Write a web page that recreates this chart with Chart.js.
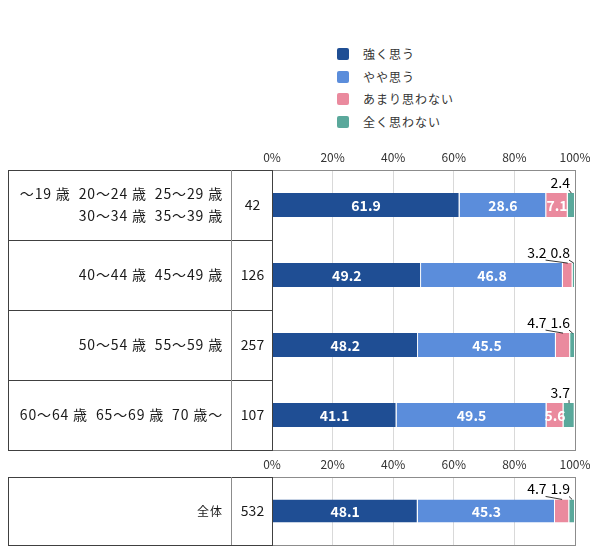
<!DOCTYPE html>
<html>
<head>
<meta charset="utf-8">
<script src="https://cdn.jsdelivr.net/npm/chart.js@4"></script>
<style>
  body { margin: 0; background: #fff; font-family: "Noto Sans CJK JP", sans-serif; }
  #page { position: relative; width: 590px; height: 552px; }
  #legend { position: absolute; left: 337px; top: 45px; }
  .item { position: absolute; left: 0; white-space: nowrap; font-size: 12px; color: #333; }
  .item span.box { position: absolute; left: 0; top: 3px; width: 12px; height: 12px; border-radius: 2px; }
  .item span.txt { position: absolute; left: 26px; top: 0; line-height: 18px; letter-spacing: 1px; }
  canvas { position: absolute; left: 0; }
</style>
</head>
<body>
<div id="page">
  <div id="legend"></div>
  <canvas id="groups" width="590" height="315" style="top:140px"></canvas>
  <canvas id="total" width="590" height="100" style="top:452px"></canvas>
</div>
<script>
const seriesNames = ['強く思う', 'やや思う', 'あまり思わない', '全く思わない'];
const seriesColors = ['#1f4e94', '#5b8ddb', '#ea8a9e', '#5aa89b'];

const ageGroups = [
  ['～19 歳  20～24 歳  25～29 歳', '30～34 歳  35～39 歳'],
  ['40～44 歳  45～49 歳'],
  ['50～54 歳  55～59 歳'],
  ['60～64 歳  65～69 歳  70 歳～']
];
const groupCounts = [42, 126, 257, 107];

const strongly = [61.9, 49.2, 48.2, 41.1];
const somewhat = [28.6, 46.8, 45.5, 49.5];
const notMuch  = [7.1, 3.2, 4.7, 5.6];
const notAtAll = [2.4, 0.8, 1.6, 3.7];

const totalLabel = [['全体']];
const totalCount = [532];
const totalValues = [48.1, 45.3, 4.7, 1.9];

const xTicks = [0, 20, 40, 60, 80, 100];

// legend
const legend = document.getElementById('legend');
seriesNames.forEach((name, i) => {
  const div = document.createElement('div');
  div.className = 'item';
  div.style.top = (i * 22.5) + 'px';
  div.innerHTML = '<span class="box" style="background:' + seriesColors[i] + '"></span><span class="txt">' + name + '</span>';
  legend.appendChild(div);
});

const FONT = '"Noto Sans CJK JP", sans-serif';

// label table on the left + box round the plot
const tablePlugin = {
  id: 'table',
  afterDraw(chart, args, opts) {
    const ctx = chart.ctx;
    const area = chart.chartArea;
    const n = chart.data.labels.length;
    const rowH = (area.bottom - area.top) / n;
    const left = 8, colX = 231;
    ctx.save();
    // plot box
    ctx.strokeStyle = '#8c8c8c';
    ctx.lineWidth = 1;
    ctx.strokeRect(area.left + 0.5, area.top + 0.5, area.right - area.left, area.bottom - area.top);
    // label table lines
    ctx.strokeStyle = '#404040';
    ctx.beginPath();
    for (let i = 0; i <= n; i++) {
      const y = Math.round(area.top + i * rowH) + 0.5;
      ctx.moveTo(left, y);
      ctx.lineTo(area.left, y);
    }
    ctx.moveTo(left + 0.5, area.top);
    ctx.lineTo(left + 0.5, area.bottom + 1);
    ctx.moveTo(area.left + 0.5, area.top);
    ctx.lineTo(area.left + 0.5, area.bottom + 1);
    ctx.stroke();
    ctx.strokeStyle = '#8c8c8c';
    ctx.beginPath();
    ctx.moveTo(colX + 0.5, area.top);
    ctx.lineTo(colX + 0.5, area.bottom);
    ctx.stroke();
    // texts
    ctx.fillStyle = '#1a1a1a';
    ctx.textBaseline = 'middle';
    chart.data.labels.forEach((lines, i) => {
      const cy = chart.scales.y.getPixelForValue(i);
      ctx.textAlign = 'right';
      const small = lines.length === 1 && lines[0].length < 4;
      ctx.font = (small ? '12px ' : '14px ') + FONT;
      ctx.letterSpacing = small ? '1px' : '0.85px';
      lines.forEach((t, k) => {
        ctx.fillText(t, 223, cy + (k - (lines.length - 1) / 2) * 22);
      });
      ctx.letterSpacing = '0px';
      ctx.font = '14px ' + FONT;
      ctx.textAlign = 'center';
      ctx.fillText(String(opts.counts[i]), (colX + area.left) / 2 + 1, cy);
    });
    ctx.restore();
  }
};

// value labels: inside for wide segments, above with a leader line for thin ones
const valuePlugin = {
  id: 'values',
  afterDatasetsDraw(chart) {
    const ctx = chart.ctx;
    const area = chart.chartArea;
    const outside = {};
    ctx.save();
    chart.data.datasets.forEach((ds, di) => {
      const meta = chart.getDatasetMeta(di);
      meta.data.forEach((bar, j) => {
        const v = ds.data[j];
        const x0 = Math.min(bar.x, bar.base), x1 = Math.max(bar.x, bar.base);
        const top = bar.y - bar.height / 2;
        if (v >= 5) {
          ctx.font = 'bold 14px ' + FONT;
          ctx.fillStyle = '#fff';
          ctx.textAlign = 'center';
          ctx.textBaseline = 'middle';
          ctx.fillText(v.toFixed(1), (x0 + x1) / 2, bar.y + 1);
        } else {
          (outside[j] = outside[j] || []).push({ v, cx: (x0 + x1) / 2, top });
        }
      });
    });
    ctx.font = '14px ' + FONT;
    ctx.fillStyle = '#000';
    ctx.strokeStyle = '#000';
    ctx.lineWidth = 0.8;
    ctx.textAlign = 'right';
    ctx.textBaseline = 'alphabetic';
    Object.values(outside).forEach(items => {
      let right = area.right - 5;
      for (let k = items.length - 1; k >= 0; k--) {
        const it = items[k];
        const txt = it.v.toFixed(1);
        const w = ctx.measureText(txt).width;
        ctx.fillText(txt, right, it.top - 5);
        ctx.beginPath();
        ctx.moveTo(right - 1, it.top - 3);
        ctx.lineTo(it.cx, it.top);
        ctx.stroke();
        right = right - w - 4;
      }
    });
    ctx.restore();
  }
};

function makeChart(id, labels, counts, columns, axisH, padBottom) {
  return new Chart(document.getElementById(id), {
    type: 'bar',
    data: {
      labels: labels,
      datasets: seriesNames.map((name, i) => ({
        label: name,
        data: columns[i],
        backgroundColor: seriesColors[i],
        borderColor: '#ffffff',
        borderWidth: { left: 0, right: 1, top: 0, bottom: 0 },
        borderSkipped: false,
        barPercentage: 0.34,
        categoryPercentage: 1
      }))
    },
    options: {
      indexAxis: 'y',
      responsive: false,
      animation: false,
      layout: { padding: { left: 272, right: 15, top: 0, bottom: padBottom } },
      scales: {
        x: {
          position: 'top',
          stacked: true,
          min: 0,
          max: 100,
          afterBuildTicks: s => { s.ticks = xTicks.map(v => ({ value: v })); },
          afterFit: s => { s.height = axisH; s.paddingLeft = 0; s.paddingRight = 0; },
          border: { display: false },
          grid: { color: '#d9d9d9', drawTicks: false },
          ticks: {
            padding: 5,
            color: '#333',
            font: { family: FONT, size: 12 },
            callback: v => v + '%'
          }
        },
        y: { stacked: true, display: false }
      },
      plugins: {
        legend: { display: false },
        tooltip: { enabled: false },
        table: { counts: counts }
      }
    },
    plugins: [tablePlugin, valuePlugin]
  });
}

makeChart('groups', ageGroups, groupCounts, [strongly, somewhat, notMuch, notAtAll], 30, 5);
makeChart('total', totalLabel, totalCount, totalValues.map(v => [v]), 25, 7);
</script>
</body>
</html>
